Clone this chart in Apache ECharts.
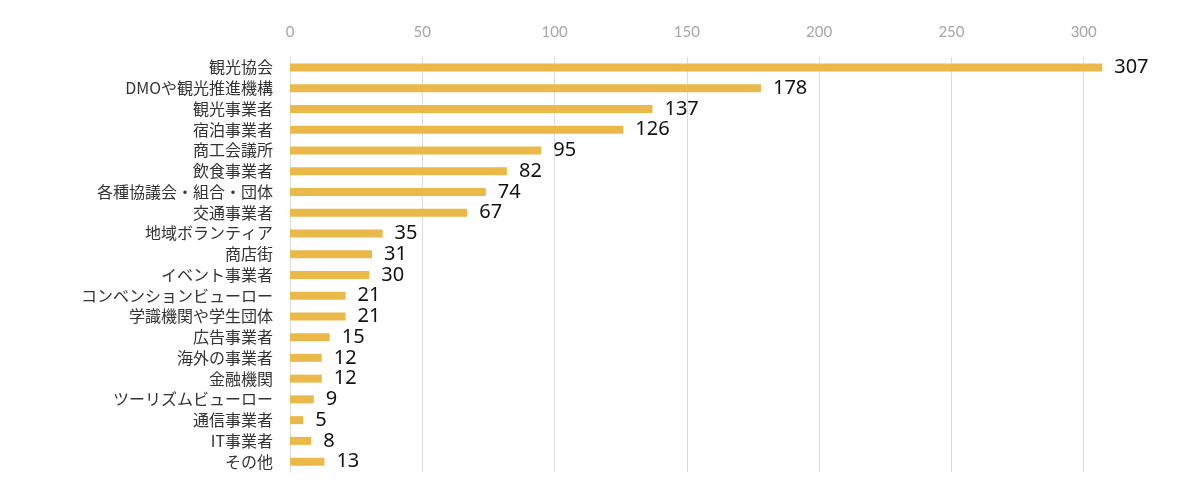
<!DOCTYPE html>
<html><head><meta charset="utf-8">
<script src="https://cdn.jsdelivr.net/npm/echarts@6/dist/echarts.min.js"></script>
<style>html,body{margin:0;padding:0;background:#fff}#c{width:1200px;height:489px}</style>
</head><body><div id="c"></div>
<script>
const categories = ["観光協会","DMOや観光推進機構","観光事業者","宿泊事業者","商工会議所","飲食事業者","各種協議会・組合・団体","交通事業者","地域ボランティア","商店街","イベント事業者","コンベンションビューロー","学識機関や学生団体","広告事業者","海外の事業者","金融機関","ツーリズムビューロー","通信事業者","IT事業者","その他"];
const values = [307,178,137,126,95,82,74,67,35,31,30,21,21,15,12,12,9,5,8,13];
const xTicks = [0,50,100,150,200,250,300,350];

const chart = echarts.init(document.getElementById('c'), null, {renderer:'canvas'});
chart.setOption({
  animation:false,
  grid:{left:290, right:-16, top:57, bottom:17, containLabel:false, outerBoundsMode:'none'},
  xAxis:{
    type:'value', position:'top', min:xTicks[0], max:xTicks[xTicks.length-1], interval:50,
    axisLine:{show:false}, axisTick:{show:false},
    axisLabel:{color:'#a6a6a6', fontSize:15, margin:17, fontFamily:'Lato, "Noto Sans", sans-serif'},
    splitLine:{show:true, lineStyle:{color:'#dcdcdc', width:1}}
  },
  yAxis:{
    type:'category', data:categories, inverse:true,
    axisLine:{show:false}, axisTick:{show:false},
    axisLabel:{interval:0, hideOverlap:false, color:'#333', fontSize:16, margin:17, fontFamily:'"Noto Sans CJK JP", "Noto Sans", sans-serif'}
  },
  series:[{
    type:'bar', data:values, barWidth:8,
    itemStyle:{color:'#EAB94A'},
    label:{show:true, position:'right', distance:12, color:'#111', fontSize:20, fontFamily:'"Noto Sans", sans-serif'}
  }]
});
</script></body></html>
